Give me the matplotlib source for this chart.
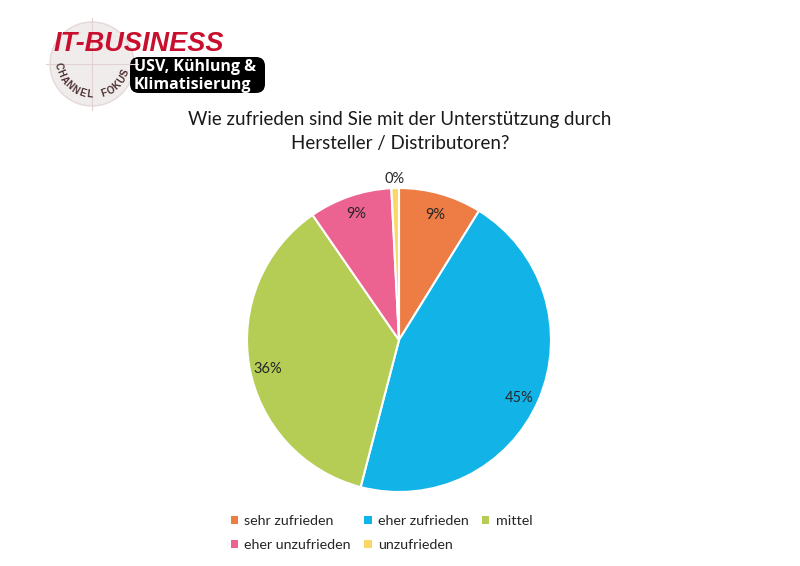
import matplotlib
matplotlib.use("Agg")
import matplotlib.pyplot as plt
from matplotlib.patches import FancyBboxPatch, Circle
import numpy as np

plt.rcParams['font.family'] = ['Lato', 'DejaVu Sans']

# survey answers (share in %)
categories = ["sehr zufrieden", "eher zufrieden", "mittel",
              "eher unzufrieden", "unzufrieden"]
shares = [8.8, 45.1, 36.2, 8.8, 0.8]
pct_labels = ["9%", "45%", "36%", "9%", "0%"]
colors = ["#ED7D45", "#12B4E8", "#B5CC55", "#EC6392", "#FAD868"]

title = "Wie zufrieden sind Sie mit der Unterstützung durch\nHersteller / Distributoren?"

W, H = 800, 566
fig = plt.figure(figsize=(W / 100, H / 100), dpi=100)

# pie axes: centre (399, 340), radius 152 px
cx, cy, r = 399, 340, 152
ax = fig.add_axes([(cx - r) / W, (H - cy - r) / H, 2 * r / W, 2 * r / H])
wedges, _ = ax.pie(shares, colors=colors, startangle=90, counterclock=False,
                   radius=1, wedgeprops=dict(edgecolor="white", linewidth=1.5))
ax.set_xlim(-1, 1)
ax.set_ylim(-1, 1)
ax.set_aspect("equal")
ax.axis("off")

# label distance from centre and small downward nudge (px), like Excel's best fit
dists = [0.86, 0.86, 0.88, 0.88, 1.06]
nudge = [1, 7, 6, 1, 0]
for w, lab, d, n in zip(wedges, pct_labels, dists, nudge):
    ang = np.deg2rad((w.theta1 + w.theta2) / 2)
    ax.text(d * np.cos(ang), d * np.sin(ang) - n / r, lab, ha="center",
            va="center", fontsize=10.5, color="#262626", clip_on=False)

fig.text(0.5, 1 - 132 / H, title, ha="center", va="center",
         fontsize=13.5, color="#1a1a1a", linespacing=1.5)

# legend, filled row by row
order = [0, 3, 1, 4, 2]
leg = fig.legend([wedges[i] for i in order], [categories[i] for i in order],
                 ncol=3, loc="upper left", bbox_to_anchor=(225 / W, 1 - 509 / H),
                 frameon=False, fontsize=10.3, handlelength=0.5, handleheight=0.5,
                 handletextpad=0.45, columnspacing=0.95, labelspacing=0.85,
                 labelcolor="#262626", borderaxespad=0)
for h in leg.legend_handles:
    h.set_edgecolor("none")

# logo, top left
la = fig.add_axes([0, 0, 1, 1], zorder=-1)
la.set_xlim(0, W)
la.set_ylim(H, 0)
la.axis("off")
la.add_patch(Circle((92, 64), 42, facecolor="#f1ecec", edgecolor="#e4d8d8",
                    linewidth=1))
la.plot([92, 92], [18, 110], color="#e0d2d2", lw=0.8)
la.plot([46, 138], [64, 64], color="#e0d2d2", lw=0.8)
la.add_patch(FancyBboxPatch((130, 57), 135, 36,
                            boxstyle="round,pad=0,rounding_size=9",
                            facecolor="black", edgecolor="none"))
la.text(54, 44, "IT-BUSINESS", fontsize=19.5, fontweight="bold", style="italic",
        color="#C8102E", family="Liberation Sans", ha="left", va="center")
la.text(134, 67, "USV, Kühlung &", fontsize=11.5, fontweight="bold",
        color="white", ha="left", va="center", family="Open Sans")
la.text(134, 85, "Klimatisierung", fontsize=11.5, fontweight="bold",
        color="white", ha="left", va="center", family="Open Sans")

# curved "CHANNEL FOKUS" along the lower arc
word = "CHANNEL FOKUS"
phis = np.linspace(190, 338, len(word))
for ch, phi in zip(word, phis):
    a = np.deg2rad(phi)
    x = 93 + 35 * np.cos(a)
    y = 60 - 35 * np.sin(a)
    la.text(x, y, ch, fontsize=7, fontweight="bold", color="#4a3030",
            ha="center", va="center", rotation=phi + 90,
            family="Liberation Sans")

fig.savefig("out.png", dpi=100, facecolor="white")
